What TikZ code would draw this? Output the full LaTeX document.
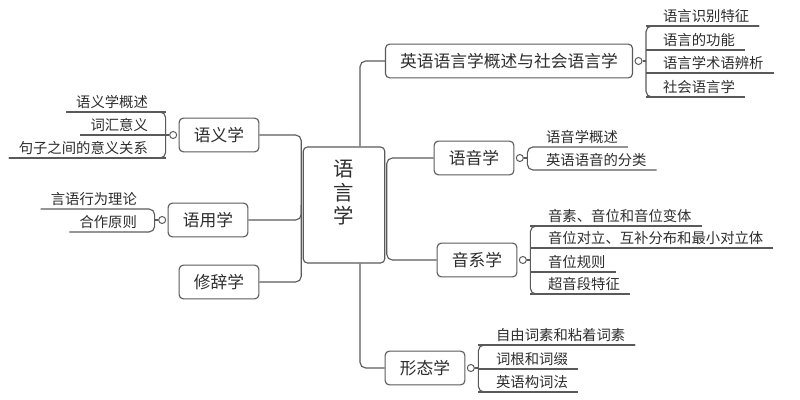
\documentclass[tikz,border=0pt]{standalone}
\usepackage{fontspec}
\setmainfont{Noto Sans CJK SC}
\usetikzlibrary{positioning}
\definecolor{lineC}{RGB}{90,90,90}
\definecolor{textC}{RGB}{45,45,45}

\begin{document}
\begin{tikzpicture}[x=0.025cm, y=-0.025cm,
	conn/.style = {draw=lineC, line width=0.8pt, rounded corners=4pt},
	box/.style = {draw=lineC, line width=0.8pt, rounded corners=3pt, fill=white, text=textC,
		inner xsep=10.5pt, minimum height=24pt, font=\fontsize{11.9pt}{14pt}\selectfont},
	rootbox/.style = {box, minimum width=58pt, minimum height=82.5pt, inner xsep=4pt,
		font=\fontsize{14.5pt}{15.5pt}\selectfont},
	leaf/.style = {text=textC, inner xsep=7pt, inner ysep=2pt, font=\fontsize{10.2pt}{12pt}\selectfont},
	marker/.style = {circle, draw=lineC, line width=0.7pt, fill=white, inner sep=0pt, minimum size=5pt}]
	\useasboundingbox (0,0) rectangle (800,400);

	% centre
	\node[rootbox] (root) at (344,205) {\raisebox{7pt}[\height][\depth]{\begin{tabular}{@{}c@{}}语\\言\\学\end{tabular}}};

	% main branches
	\node[box] (yuyi) at (219,135) {语义学};
	\node[box] (yuyong) at (208,220) {语用学};
	\node[box] (xiuci) at (219,282) {修辞学};
	\node[box] (ying) at (509,61) {英语语言学概述与社会语言学};
	\node[box] (yuyin) at (474,158) {语音学};
	\node[box] (yinxi) at (477,260) {音系学};
	\node[box] (xingtai) at (425,368) {形态学};

	\coordinate (lbus) at ([xshift=-1pt]root.west);
	\coordinate (rbus) at ([xshift=1pt]root.east);
	\coordinate (tbus) at ([xshift=11.4pt]root.north);
	\coordinate (bbus) at ([xshift=11.4pt]root.south);

	\draw[conn] (yuyi.east) -| (lbus);
	\draw[conn] (yuyong.east) -| (lbus);
	\draw[conn] (xiuci.east) -| (lbus);
	\draw[conn] (rbus) |- (yuyin.west);
	\draw[conn] (rbus) |- (yinxi.west);
	\draw[conn] (tbus) |- (ying.west);
	\draw[conn] (bbus) |- (xingtai.west);

	% leaves, right side
	\node[marker, right=1pt of ying] (yingM) {};
	\coordinate (yingB) at ([xshift=2.5pt]yingM.east);
	\foreach \y/\t [count=\i] in {26/语言识别特征, 50/语言的功能, 73/语言学术语辨析, 97/社会语言学} {
		\node[leaf, anchor=south west] (ying\i) at (653,\y) {\t};
		\draw[conn] (ying\i.south east) -- (ying\i.south east -| yingB);
	}
	\draw[conn] (ying1.south east) -| (yingB) |- (ying4.south east);
	\draw[conn] (yingM) -- (yingB);

	\node[marker, right=1pt of yuyin] (yuyinM) {};
	\coordinate (yuyinB) at ([xshift=2.5pt]yuyinM.east);
	\foreach \y/\t [count=\i] in {147/语音学概述, 170/英语语音的分类} {
		\node[leaf, anchor=south west] (yuyin\i) at (536,\y) {\t};
	}
	\draw[conn] (yuyin1.south east) -| (yuyinB) |- (yuyin2.south east);
	\draw[conn] (yuyinM) -- (yuyinB);

	\node[marker, right=1pt of yinxi] (yinxiM) {};
	\coordinate (yinxiB) at ([xshift=2.5pt]yinxiM.east);
	\foreach \y/\t [count=\i] in {226/音素、音位和音位变体, 248/音位对立、互补分布和最小对立体, 272/音位规则, 294/超音段特征} {
		\node[leaf, anchor=south west] (yinxi\i) at (538,\y) {\t};
		\draw[conn] (yinxi\i.south east) -- (yinxi\i.south east -| yinxiB);
	}
	\draw[conn] (yinxi1.south east) -| (yinxiB) |- (yinxi4.south east);
	\draw[conn] (yinxiM) -- (yinxiB);

	\node[marker, right=1pt of xingtai] (xingtaiM) {};
	\coordinate (xingtaiB) at ([xshift=2.5pt]xingtaiM.east);
	\foreach \y/\t [count=\i] in {345/自由词素和粘着词素, 369/词根和词缀, 392/英语构词法} {
		\node[leaf, anchor=south west] (xingtai\i) at (486,\y) {\t};
		\draw[conn] (xingtai\i.south east) -- (xingtai\i.south east -| xingtaiB);
	}
	\draw[conn] (xingtai1.south east) -| (xingtaiB) |- (xingtai3.south east);
	\draw[conn] (xingtaiM) -- (xingtaiB);

	% leaves, left side
	\node[marker, left=1pt of yuyi] (yuyiM) {};
	\coordinate (yuyiB) at ([xshift=-2.5pt]yuyiM.west);
	\foreach \y/\t [count=\i] in {112/语义学概述, 135/词汇意义, 158/句子之间的意义关系} {
		\node[leaf, anchor=south east] (yuyi\i) at (158,\y) {\t};
		\draw[conn] (yuyi\i.south west) -- (yuyi\i.south west -| yuyiB);
	}
	\draw[conn] (yuyi1.south west) -| (yuyiB) |- (yuyi3.south west);
	\draw[conn] (yuyiM) -- (yuyiB);

	\node[marker, left=1pt of yuyong] (yuyongM) {};
	\coordinate (yuyongB) at ([xshift=-2.5pt]yuyongM.west);
	\foreach \y/\t [count=\i] in {209/言语行为理论, 232/合作原则} {
		\node[leaf, anchor=south east] (yuyong\i) at (147,\y) {\t};
	}
	\draw[conn] (yuyong1.south west) -| (yuyongB) |- (yuyong2.south west);
	\draw[conn] (yuyongM) -- (yuyongB);
\end{tikzpicture}
\end{document}
